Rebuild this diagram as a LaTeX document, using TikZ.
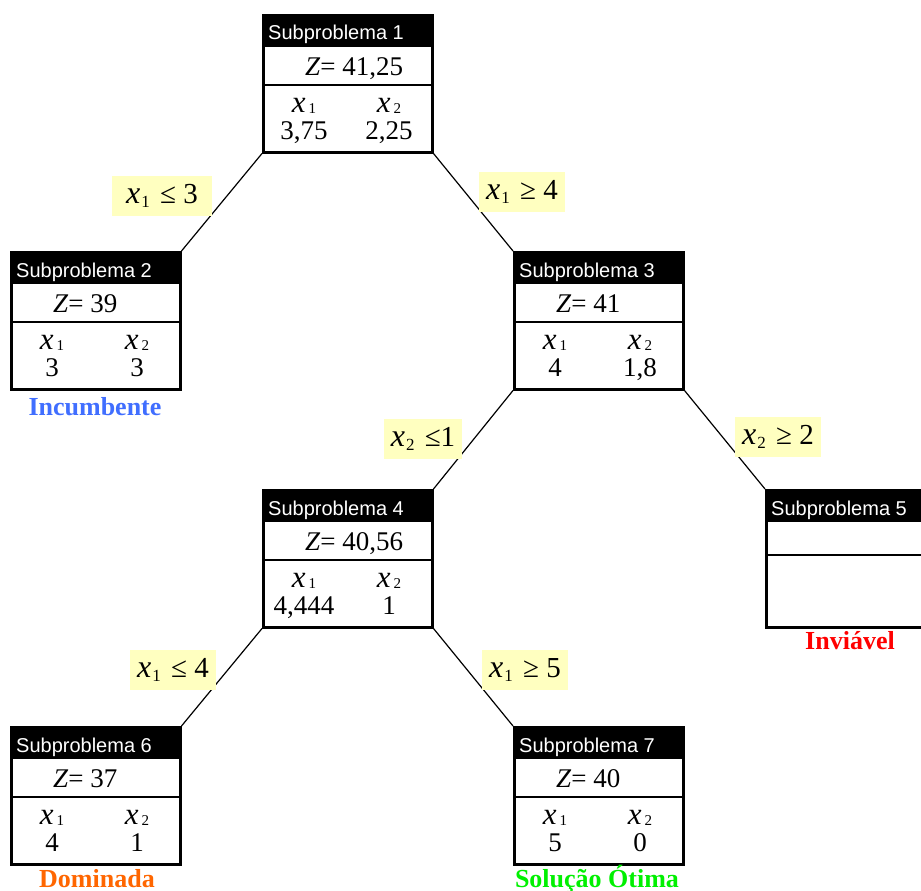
\documentclass[tikz,border=0pt]{standalone}
\usepackage{fontspec}
\setmainfont{Liberation Serif}
\newfontfamily\arialf{Liberation Sans}
\definecolor{lblyellow}{RGB}{255,255,192}
\definecolor{incblue}{RGB}{64,110,255}
\definecolor{domorange}{RGB}{255,102,0}
\definecolor{otgreen}{RGB}{0,240,0}
\definecolor{invred}{RGB}{255,0,0}
\newcommand\xs[1]{{\fontsize{31}{31}\selectfont\textit{x}}\kern3pt\raisebox{-1pt}{\fontsize{15}{15}\selectfont #1}}
\newcommand\xl[1]{{\fontsize{32}{32}\selectfont\textit{x}}\kern1pt\raisebox{-4pt}{\fontsize{17}{17}\selectfont #1}\kern3pt}
\tikzset{
  spbox/.style={rectangle, draw=black, line width=2.5pt, minimum width=169pt, minimum height=137pt, inner sep=0pt, anchor=north west},
  sepline/.style={line width=1.3pt},
  hdr/.style={anchor=base west, inner sep=0pt, text=white, font=\arialf\fontsize{20}{20}\selectfont},
  ztxt/.style={anchor=base west, inner sep=0pt, font=\fontsize{27}{27}\selectfont},
  coltxt/.style={anchor=base, inner sep=0pt, font=\fontsize{27}{27}\selectfont},
  cond/.style={fill=lblyellow, inner xsep=7pt, minimum height=40pt, font=\fontsize{29}{29}\selectfont},
  status/.style={anchor=base, inner sep=0pt, font=\bfseries\fontsize{26}{26}\selectfont},
  conn/.style={line width=1.2pt, black},
}
\newcommand\subprob[7]{%
  \node[spbox] (#1) at (#2,#3) {};
  \fill[black] (#1.north west) rectangle ([yshift=-33pt]#1.north east);
  \draw[sepline] ([yshift=-71pt]#1.north west) -- ([yshift=-71pt]#1.north east);
  \node[hdr] (#1h) at ([xshift=6pt,yshift=-26pt]#1.north west) {#4};
  \node[ztxt] (#1z) at ([xshift=43pt,yshift=-61pt]#1.north west) {\textit{Z}=\ #5};
  \node[coltxt] (#1xa) at ([xshift=42pt,yshift=-98pt]#1.north west) {\xs1};
  \node[coltxt] (#1xb) at ([xshift=127pt,yshift=-98pt]#1.north west) {\xs2};
  \node[coltxt] (#1va) at ([xshift=42pt,yshift=-125pt]#1.north west) {#6};
  \node[coltxt] (#1vb) at ([xshift=127pt,yshift=-125pt]#1.north west) {#7};
}
\begin{document}
\begin{tikzpicture}[x=1pt,y=-1pt]
\clip (0,0) rectangle (921,891);
\fill[white] (0,0) rectangle (921,891);
\subprob{s1}{262}{14}{Subproblema 1}{41,25}{3,75}{2,25}
\subprob{s2}{10}{251}{Subproblema 2}{39}{3}{3}
\subprob{s3}{513}{251}{Subproblema 3}{41}{4}{1,8}
\subprob{s4}{262}{489}{Subproblema 4}{40,56}{4,444}{1}
\subprob{s6}{10}{726}{Subproblema 6}{37}{4}{1}
\subprob{s7}{513}{726}{Subproblema 7}{40}{5}{0}
% Subproblem 5 (infeasible, empty)
\node[spbox] (s5) at (765,489) {};
\fill[black] (s5.north west) rectangle ([yshift=-33pt]s5.north east);
\draw[sepline] ([yshift=-66pt]s5.north west) -- ([yshift=-66pt]s5.north east);
\node[hdr] (s5h) at ([xshift=6pt,yshift=-26pt]s5.north west) {Subproblema 5};
% connectors
\draw[conn] (s1.south west) -- (s2.north east);
\draw[conn] (s1.south east) -- (s3.north west);
\draw[conn] (s3.south west) -- (s4.north east);
\draw[conn] (s3.south east) -- (s5.north west);
\draw[conn] (s4.south west) -- (s6.north east);
\draw[conn] (s4.south east) -- (s7.north west);
% branching conditions
\node[cond, minimum width=100pt] (c12) at (162,196) {\xl1\ ≤ 3};
\node[cond] (c13) at (522,192) {\xl1\ ≥ 4};
\node[cond] (c34) at (423,439) {\xl2\ ≤1};
\node[cond] (c35) at (778,437) {\xl2\ ≥ 2};
\node[cond] (c46) at (173,670) {\xl1\ ≤ 4};
\node[cond] (c47) at (525,670) {\xl1\ ≥ 5};
% status labels
\node[status, text=incblue] (st2) at (95,415) {Incumbente};
\node[status, text=invred] (st5) at (850,649) {Inviável};
\node[status, text=domorange] (st6) at (97,887) {Dominada};
\node[status, text=otgreen] (st7) at (597,887) {Solução Ótima};
\end{tikzpicture}
\end{document}
